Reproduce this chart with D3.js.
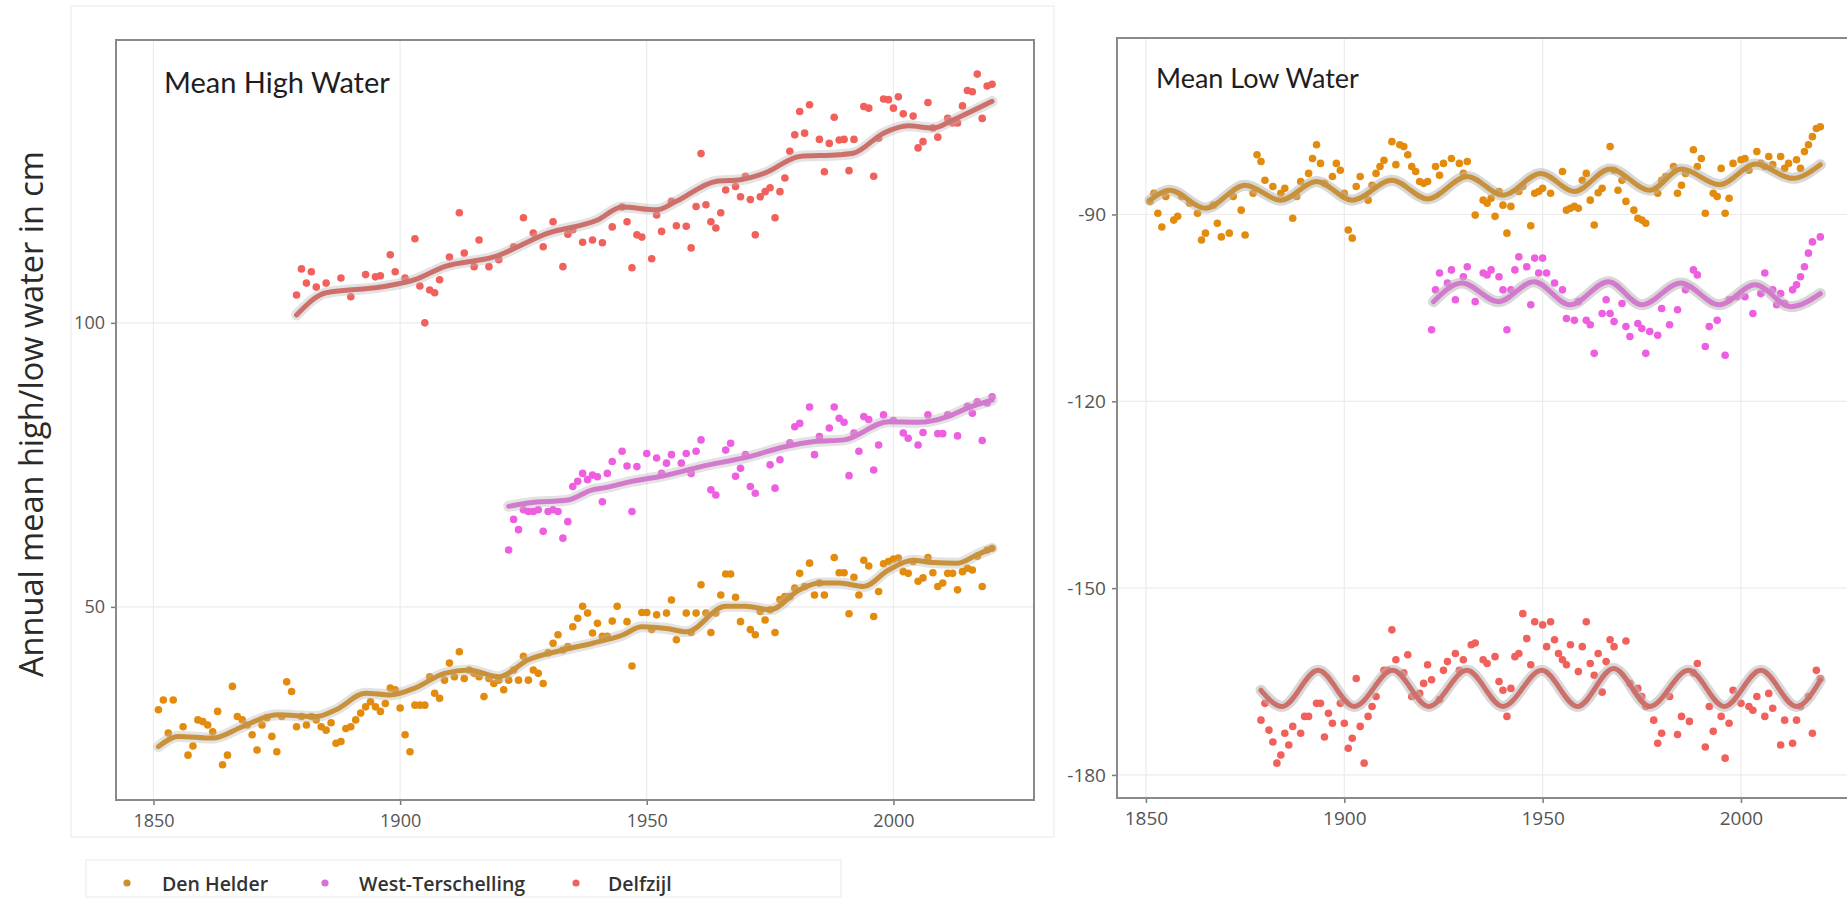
<!DOCTYPE html>
<html><head><meta charset="utf-8">
<script src="https://cdn.jsdelivr.net/npm/d3@7"></script>
<style>body{margin:0;background:#fff}svg{display:block}</style>
</head><body><svg id="c" width="1847" height="898"></svg>
<script>
const stations = ["Den Helder", "West-Terschelling", "Delfzijl"];
const panelTitles = ["Mean High Water", "Mean Low Water"];
const yTitle = "Annual mean high/low water in cm";
const xTicks = [1850, 1900, 1950, 2000];
const highTicks = [50, 100];
const lowTicks = [-180, -150, -120, -90];

// Mean High Water — annual points [year, cm]
const denHelderHigh = [[1851,31.9],[1852,33.6],[1853,27.8],[1854,33.6],[1856,28.9],[1857,23.9],[1858,25.5],[1859,30.1],[1860,29.8],[1861,29.2],[1862,28],[1863,31.6],[1864,22.2],[1865,23.9],[1866,36],[1867,30.7],[1868,30.1],[1869,29.2],[1870,27.5],[1871,24.8],[1872,29.2],[1873,30.5],[1874,27.2],[1875,24.5],[1876,30.7],[1877,36.8],[1878,35.1],[1879,28.9],[1880,30.7],[1881,29.2],[1882,30.7],[1883,30.1],[1884,28.9],[1885,28.3],[1886,29.6],[1887,26],[1888,26.3],[1889,28.6],[1890,28.9],[1891,30.1],[1892,31.3],[1893,32.4],[1894,33.3],[1895,32.4],[1896,31.6],[1897,33],[1898,35.7],[1899,35.4],[1900,32.2],[1901,27.5],[1902,24.5],[1903,32.7],[1904,32.7],[1905,32.7],[1906,37.7],[1907,34.8],[1908,33.9],[1909,37.1],[1910,40.1],[1911,37.7],[1912,42.1],[1913,37.4],[1914,38.9],[1915,38.3],[1916,37.7],[1917,34.2],[1918,37.4],[1919,36.5],[1920,37.1],[1921,35.4],[1922,37.1],[1923,38.9],[1924,37.1],[1925,41.3],[1926,37.1],[1927,38.9],[1928,38.3],[1929,36.5],[1930,41.9],[1931,43.6],[1932,45.1],[1933,42.4],[1934,43],[1935,46.5],[1936,48],[1937,50.1],[1938,48.9],[1939,45.4],[1940,47.1],[1941,44.8],[1942,44.8],[1943,47.5],[1944,50.1],[1946,47.4],[1947,39.6],[1949,49],[1950,49],[1951,46],[1952,48.6],[1954,48.9],[1955,51.2],[1956,44.2],[1958,48.9],[1959,45.5],[1960,48.9],[1961,53.9],[1962,48.9],[1963,45.5],[1964,48.9],[1965,52.1],[1966,55.8],[1967,55.8],[1968,51.7],[1969,47.4],[1971,46],[1972,45.1],[1973,49.2],[1974,47.7],[1975,49.5],[1976,45.5],[1977,51.3],[1978,51.8],[1979,51.8],[1980,53.3],[1981,55.9],[1982,53.6],[1983,57.7],[1984,52.1],[1985,54.2],[1986,52.1],[1988,58.7],[1989,56],[1990,56],[1991,48.8],[1992,55.2],[1993,52.1],[1994,58.2],[1995,57.2],[1996,48.3],[1997,52.7],[1998,57.6],[1999,58],[2000,58.4],[2001,58.6],[2002,56.2],[2003,55.9],[2004,58],[2005,54.5],[2006,55.1],[2007,58.7],[2008,56],[2009,53.6],[2010,54.2],[2011,55.9],[2012,55.9],[2013,53],[2014,56.2],[2015,56.8],[2016,56.5],[2017,58.9],[2018,53.6],[2019,60],[2020,60.3]];
const terschellingHigh = [[1922,60],[1923,65.4],[1924,63.6],[1925,67.1],[1926,66.8],[1927,66.8],[1928,67.1],[1929,63.3],[1930,66.8],[1931,67.1],[1932,66.8],[1933,62.1],[1934,65],[1935,71.2],[1936,72.1],[1937,73.5],[1938,72.4],[1939,73.2],[1940,72.9],[1941,68.5],[1942,73.5],[1943,75.6],[1945,77.4],[1946,74.8],[1947,66.8],[1948,74.7],[1950,77],[1952,76.2],[1953,73.5],[1954,75.3],[1955,76.8],[1957,75.3],[1958,77],[1959,73.5],[1960,77.4],[1961,79.4],[1963,70.6],[1964,69.7],[1966,77.6],[1967,78.8],[1968,73],[1969,74.4],[1970,76.8],[1971,71.2],[1972,70],[1975,75],[1976,70.9],[1977,75.9],[1979,78.9],[1980,81.7],[1981,82.3],[1983,85.2],[1984,76.8],[1985,80],[1987,81.5],[1988,85.2],[1989,83.2],[1990,82.5],[1991,73.1],[1992,80.6],[1993,77.4],[1994,83.5],[1995,83],[1996,74.1],[1997,78.5],[1998,83.8],[2000,82.8],[2002,80.6],[2003,79.7],[2005,78.5],[2006,80.7],[2007,83.8],[2009,80.5],[2010,80.5],[2011,83.8],[2013,80.1],[2015,85.3],[2016,84.1],[2017,86.1],[2018,79.3],[2019,85.9],[2020,87]];
const delfzijlHigh = [[1879,104.9],[1880,109.5],[1881,107],[1882,109],[1883,106.3],[1885,107],[1888,107.9],[1890,104.6],[1893,108.5],[1895,108.1],[1896,108.3],[1898,112],[1899,109],[1901,107.9],[1903,114.8],[1904,106.5],[1905,100],[1906,105.8],[1907,105.3],[1908,107.6],[1910,111.6],[1912,119.4],[1913,112.3],[1915,109.9],[1916,114.6],[1918,109.9],[1920,111.1],[1923,113.4],[1925,118.5],[1927,115.8],[1929,113.4],[1931,117.8],[1933,109.9],[1934,115.6],[1935,116.4],[1937,114.2],[1939,114.6],[1941,114.1],[1943,116.9],[1945,120.4],[1946,117.8],[1947,109.7],[1948,115.5],[1949,115.1],[1951,111.3],[1952,119],[1953,116.1],[1955,121.4],[1956,117.1],[1958,117],[1959,113.2],[1960,120.5],[1961,129.8],[1962,120.8],[1963,117.8],[1964,116.7],[1965,119.4],[1966,123.4],[1968,124],[1969,122.2],[1970,125.8],[1971,121.7],[1972,115.5],[1973,122.2],[1974,123.1],[1975,123.8],[1976,118.5],[1977,123.1],[1978,125.5],[1979,130.2],[1980,133.1],[1981,137.2],[1982,133.4],[1983,138.4],[1985,132.3],[1986,126.6],[1987,131.6],[1988,136.2],[1989,132.2],[1990,132.3],[1991,126.8],[1992,132.3],[1994,138.1],[1995,137.8],[1996,125.8],[1997,132.5],[1998,139.4],[1999,139.3],[2000,137.8],[2001,139.8],[2002,136.8],[2004,136.4],[2005,130.8],[2006,131.9],[2007,138.8],[2008,134.3],[2009,132.7],[2011,136],[2012,135.2],[2013,135.2],[2014,138.2],[2015,140.9],[2016,140.7],[2017,143.8],[2018,136],[2019,141.7],[2020,142]];

// Mean High Water — smoothed fits
const denHelderHighFit = [[1851,25.4],[1855,27.2],[1862,26.9],[1868,28.9],[1875,31],[1883,30.7],[1887,31.9],[1893,34.8],[1898,34.5],[1903,35.7],[1909,38.3],[1914,38.9],[1920,37.7],[1926,40.7],[1933,42.4],[1939,43.6],[1945,45],[1949,46.5],[1954,46.2],[1958,45.6],[1966,50.1],[1970,50.1],[1975,49.5],[1981,53],[1985,54.2],[1989,54.2],[1994,53.6],[1999,56.5],[2004,58.2],[2008,57.8],[2013,57.7],[2017,59.2],[2020,60.3]];
const terschellingHighFit = [[1922,67.7],[1926,68.3],[1934,68.8],[1939,70.6],[1941,70.9],[1947,72.1],[1953,73],[1961,74.7],[1971,76.5],[1978,78.2],[1984,79.1],[1990,79.4],[1999,82.6],[2005,82.5],[2011,83.5],[2015,85],[2020,86.4]];
const delfzijlHighFit = [[1879,101.4],[1885,105.3],[1896,106.3],[1903,107.6],[1909,109.9],[1919,111.6],[1930,115.8],[1940,118.1],[1945,120.4],[1952,119.9],[1956,121.4],[1964,124.9],[1969,125.2],[1974,126.4],[1981,129.3],[1989,129.6],[1992,129.9],[1998,133.4],[2003,134.7],[2008,134.3],[2012,135.7],[2020,139]];

// Mean Low Water — annual points [year, cm]
const denHelderLow = [[1851,-87.9],[1852,-86.6],[1853,-89.8],[1854,-92],[1855,-87.1],[1857,-90.9],[1858,-90.3],[1859,-87.1],[1861,-88.2],[1863,-89.8],[1864,-94.1],[1865,-93],[1867,-88.5],[1868,-91.4],[1869,-93.6],[1871,-93],[1872,-87.1],[1874,-89.3],[1875,-93.3],[1877,-86.6],[1878,-80.4],[1879,-81.5],[1880,-84.5],[1882,-85.5],[1884,-86.6],[1885,-85.8],[1887,-90.6],[1888,-87.1],[1889,-84.7],[1891,-83.4],[1892,-81],[1893,-78.8],[1894,-81.8],[1895,-85],[1897,-83.9],[1898,-81.8],[1899,-82.9],[1900,-86.6],[1901,-92.5],[1902,-93.8],[1903,-85.5],[1904,-83.9],[1906,-87.7],[1907,-85.3],[1908,-83.4],[1909,-82.3],[1910,-81.3],[1912,-78.3],[1913,-82],[1914,-78.8],[1915,-79.1],[1916,-80.4],[1917,-82.3],[1918,-83.1],[1919,-84.7],[1920,-85],[1921,-84.7],[1923,-82.3],[1924,-83.7],[1925,-81.8],[1927,-81],[1929,-81.8],[1930,-83.4],[1931,-81.5],[1933,-90.1],[1935,-87.7],[1936,-88.2],[1937,-87.4],[1938,-90.3],[1939,-86.3],[1940,-88.5],[1941,-93],[1942,-88.7],[1944,-86.3],[1945,-85.5],[1947,-91.8],[1948,-86.6],[1949,-86.3],[1950,-85.8],[1952,-86.6],[1955,-83.1],[1956,-89.3],[1957,-89],[1958,-88.7],[1959,-89],[1960,-84.5],[1961,-83.4],[1962,-87.7],[1963,-91.7],[1964,-86.5],[1965,-85.8],[1967,-79.1],[1968,-82.9],[1969,-86.1],[1970,-84.5],[1971,-87.9],[1973,-89.3],[1974,-90.6],[1975,-90.9],[1976,-91.4],[1979,-86.6],[1980,-84.5],[1981,-83.9],[1983,-82.3],[1984,-86.6],[1985,-85.3],[1986,-83.4],[1988,-79.6],[1989,-82.3],[1990,-81],[1991,-89.8],[1993,-86.6],[1994,-87.1],[1995,-82.6],[1996,-89.8],[1997,-87.4],[1998,-81.8],[2000,-81.2],[2001,-81],[2002,-82.9],[2004,-79.9],[2005,-81.8],[2006,-82.3],[2007,-80.7],[2008,-82],[2010,-80.7],[2011,-82.6],[2012,-81.8],[2014,-81.2],[2015,-82.6],[2016,-79.9],[2017,-78.8],[2018,-77.5],[2019,-76.2],[2020,-75.9]];
const terschellingLow = [[1922,-108.5],[1923,-102.1],[1924,-99.4],[1926,-101],[1927,-98.9],[1928,-103.7],[1930,-100],[1931,-98.4],[1933,-104],[1935,-99.4],[1936,-99.7],[1937,-98.9],[1939,-100],[1940,-102.1],[1941,-108.5],[1942,-102.1],[1943,-98.9],[1944,-96.8],[1946,-98.4],[1947,-104.5],[1948,-97],[1949,-99.4],[1950,-97],[1951,-99.4],[1953,-101],[1955,-102.1],[1956,-106.7],[1958,-107],[1959,-104],[1961,-107],[1962,-107.7],[1963,-112.3],[1965,-105.9],[1966,-103.7],[1967,-105.9],[1968,-107.2],[1970,-104.3],[1971,-108],[1972,-109.6],[1974,-107.5],[1975,-108.3],[1976,-112.3],[1977,-108.8],[1979,-109.4],[1980,-105.1],[1982,-107.7],[1984,-105.3],[1986,-102.1],[1988,-98.9],[1989,-99.7],[1991,-111.2],[1992,-108],[1994,-107],[1996,-112.6],[1997,-103.7],[1999,-103.2],[2001,-103.2],[2003,-105.9],[2005,-102.7],[2006,-99.4],[2008,-102.1],[2009,-104.5],[2010,-102.7],[2011,-104.3],[2013,-102.1],[2014,-101.3],[2015,-100],[2016,-98.4],[2017,-96.2],[2018,-94.4],[2020,-93.6]];
const delfzijlLow = [[1879,-171.2],[1880,-168.5],[1881,-172.8],[1882,-174.7],[1883,-178.1],[1884,-176.8],[1885,-173.3],[1886,-175.2],[1887,-172.2],[1889,-173.3],[1890,-170.6],[1891,-170.6],[1893,-168.5],[1894,-168.5],[1895,-173.9],[1896,-170.1],[1897,-171.7],[1899,-168.5],[1900,-171.7],[1901,-175.7],[1902,-174.1],[1903,-164.5],[1904,-172.2],[1905,-178.1],[1906,-170.6],[1907,-169],[1908,-167.4],[1910,-163.2],[1911,-163.2],[1912,-156.7],[1913,-161.5],[1915,-163.6],[1916,-160.7],[1917,-167.4],[1919,-166.9],[1920,-165.3],[1921,-162.3],[1922,-164.7],[1924,-167.9],[1925,-163.2],[1926,-161.8],[1928,-160.5],[1929,-163.2],[1930,-161.5],[1932,-159.1],[1933,-158.8],[1935,-161.5],[1936,-162.1],[1938,-161],[1939,-165],[1940,-166.4],[1941,-170.6],[1942,-166.1],[1943,-161],[1944,-160.5],[1945,-154.1],[1946,-158.1],[1947,-162.3],[1948,-155.4],[1950,-155.9],[1951,-159.4],[1952,-155.4],[1953,-158.3],[1954,-160.5],[1955,-161.5],[1956,-162.3],[1957,-159.1],[1959,-163.4],[1960,-159.4],[1961,-155.4],[1962,-162.1],[1963,-164],[1964,-160.5],[1965,-166.7],[1966,-161.8],[1967,-158.3],[1968,-159.4],[1971,-158.5],[1972,-165.3],[1974,-166.1],[1975,-167.4],[1976,-169],[1978,-171.2],[1979,-174.9],[1980,-173.3],[1982,-167.4],[1984,-173.5],[1985,-170.6],[1987,-171.4],[1988,-163.6],[1989,-162.1],[1991,-175.5],[1992,-169],[1993,-173],[1995,-170.6],[1996,-177.3],[1997,-171.7],[1998,-166.4],[2000,-168.5],[2002,-169],[2003,-169.6],[2004,-167.4],[2006,-170.6],[2007,-166.9],[2008,-169.3],[2010,-175.2],[2011,-171.2],[2013,-174.9],[2014,-171.2],[2015,-169],[2017,-167.4],[2018,-173.3],[2019,-163.2],[2020,-164.5]];

// Mean Low Water — smoothed fits
const denHelderLowFit = [[1851,-87.7],[1856,-86.1],[1865,-89],[1875,-85.3],[1884,-87.7],[1893,-84.7],[1902,-87.7],[1912,-84.5],[1921,-87.5],[1931,-83.9],[1940,-86.9],[1949.5,-83.4],[1958,-86.3],[1967,-82.7],[1977,-86.1],[1985,-82.7],[1994.6,-85.2],[2003.7,-81.9],[2013,-84.2],[2020,-82]];
const terschellingLowFit = [[1922.5,-104],[1929.7,-101],[1938.8,-104],[1947.8,-100.8],[1956.9,-104.5],[1966.6,-100.8],[1975,-104.5],[1984.8,-101],[1994.5,-104.5],[2003.6,-101.3],[2012.6,-104.8],[2020,-102.7]];
const delfzijlLowFit = [[1879,-166.4],[1884.3,-169],[1893.4,-163.2],[1902.5,-169],[1912.2,-163.2],[1921.3,-169],[1930.9,-163.2],[1940,-169],[1949.8,-163.2],[1958.8,-169],[1967.9,-162.9],[1977,-169],[1986.8,-163.2],[1995.8,-169],[2005,-163.2],[2014,-169],[2020,-164.8]];

const pointColors = ["#E38B0C", "#EE5EE0", "#F2605B"];
const lineColors = ["#C8923C", "#D27ACB", "#CC706B"];
const legendColors = ["#CB912E", "#D871D5", "#EA655F"];

const svg = d3.select("#c");
svg.append("rect").attr("width", 1847).attr("height", 898).attr("fill", "#fff");

// faint screenshot frames
svg.append("rect").attr("x", 71).attr("y", 6).attr("width", 983).attr("height", 831)
  .attr("fill", "none").attr("stroke", "#f1f1f1").attr("stroke-width", 1.5);
svg.append("rect").attr("x", 86).attr("y", 860).attr("width", 755).attr("height", 37)
  .attr("fill", "none").attr("stroke", "#f1f1f1").attr("stroke-width", 1.5);

const panels = [
  { box: {x0:116, x1:1034, y0:40, y1:800}, xd:[1842.4, 2028.5], yd:[16, 149.8], yTicks: highTicks,
    title: panelTitles[0], titleX: 164, titleY: 93, titleFs: 29, fs: 18, ribbonOp: 0.4,
    series: [[denHelderHigh, denHelderHighFit], [terschellingHigh, terschellingHighFit], [delfzijlHigh, delfzijlHighFit]] },
  { box: {x0:1117, x1:1860, y0:38, y1:798}, xd:[1842.7, 2030], yd:[-183.7, -61.66], yTicks: lowTicks,
    title: panelTitles[1], titleX: 1156, titleY: 88, titleFs: 27, fs: 19, ribbonOp: 0.55,
    series: [[denHelderLow, denHelderLowFit], [terschellingLow, terschellingLowFit], [delfzijlLow, delfzijlLowFit]] }
];

panels.forEach((p, pi) => {
  const b = p.box;
  const x = d3.scaleLinear().domain(p.xd).range([b.x0, b.x1]);
  const y = d3.scaleLinear().domain(p.yd).range([b.y1, b.y0]);
  const g = svg.append("g");
  const clipId = "clip" + pi;
  svg.append("clipPath").attr("id", clipId).append("rect")
    .attr("x", b.x0).attr("y", b.y0).attr("width", b.x1 - b.x0).attr("height", b.y1 - b.y0);

  // grid
  g.selectAll(".vg").data(xTicks).join("line")
    .attr("x1", d => x(d)).attr("x2", d => x(d)).attr("y1", b.y0).attr("y2", b.y1)
    .attr("stroke", "#ececec").attr("stroke-width", 1.2);
  g.selectAll(".hg").data(p.yTicks).join("line")
    .attr("y1", d => y(d)).attr("y2", d => y(d)).attr("x1", b.x0).attr("x2", b.x1)
    .attr("stroke", "#ececec").attr("stroke-width", 1.2);

  // axes
  const ax = g.append("g").attr("transform", `translate(0,${b.y1})`)
    .call(d3.axisBottom(x).tickValues(xTicks).tickSize(5).tickPadding(9).tickFormat(d => String(d)));
  const ay = g.append("g").attr("transform", `translate(${b.x0},0)`)
    .call(d3.axisLeft(y).tickValues(p.yTicks).tickSize(5).tickPadding(6).tickFormat(d => String(d)));
  [ax, ay].forEach(a => {
    a.select(".domain").remove();
    a.selectAll(".tick line").attr("stroke", "#7a7a7a").attr("stroke-width", 1.5);
    a.selectAll(".tick text").attr("fill", "#555").style("font-family", "'Open Sans', sans-serif")
      .style("font-size", p.fs + "px");
  });

  const plot = g.append("g").attr("clip-path", `url(#${clipId})`);
  const line = d3.line().x(d => x(d[0])).y(d => y(d[1])).curve(d3.curveMonotoneX);

  p.series.forEach(([pts, fit], si) => {
    plot.append("g").selectAll("circle").data(pts).join("circle")
      .attr("cx", d => x(d[0])).attr("cy", d => y(d[1])).attr("r", 3.8)
      .attr("fill", pointColors[si]);
  });
  p.series.forEach(([pts, fit], si) => {
    plot.append("path").datum(fit).attr("d", line).attr("fill", "none")
      .attr("stroke", "#b8b8b8").attr("stroke-opacity", p.ribbonOp).attr("stroke-width", 11)
      .attr("stroke-linecap", "round");
    plot.append("path").datum(fit).attr("d", line).attr("fill", "none")
      .attr("stroke", lineColors[si]).attr("stroke-width", 5).attr("stroke-linecap", "round");
  });

  // border
  g.append("rect").attr("x", b.x0).attr("y", b.y0).attr("width", b.x1 - b.x0).attr("height", b.y1 - b.y0)
    .attr("fill", "none").attr("stroke", "#8a8a8a").attr("stroke-width", 2);

  g.append("text").attr("x", p.titleX).attr("y", p.titleY).text(p.title)
    .style("font-family", "Lato, 'Open Sans', sans-serif").style("font-size", p.titleFs + "px").attr("fill", "#1e1e1e");
});

// y axis title
svg.append("text").attr("transform", "translate(30,414) rotate(-90)")
  .attr("text-anchor", "middle").attr("dominant-baseline", "central")
  .style("font-family", "'Open Sans', sans-serif").style("font-size", "32.5px").attr("fill", "#2a2a2a")
  .text(yTitle);

// legend
const legendDotX = [127, 325, 576];
const legendTextX = [162, 359, 608];
const lg = svg.append("g");
stations.forEach((s, i) => {
  lg.append("circle").attr("cx", legendDotX[i]).attr("cy", 883).attr("r", 3.6).attr("fill", legendColors[i]);
  lg.append("text").attr("x", legendTextX[i]).attr("y", 883).attr("dominant-baseline", "central")
    .style("font-family", "'Open Sans', sans-serif").style("font-size", "19.5px").style("font-weight", 600)
    .attr("fill", "#333").text(s);
});
</script>
</body></html>
